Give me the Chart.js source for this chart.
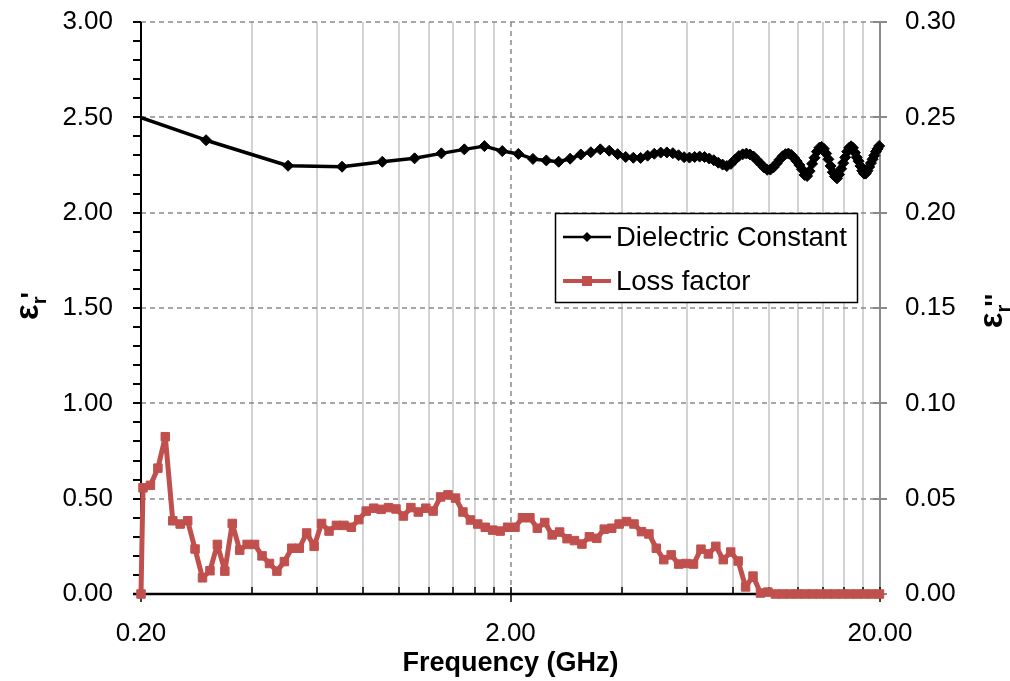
<!DOCTYPE html>
<html>
<head>
<meta charset="utf-8">
<script src="https://cdn.jsdelivr.net/npm/chart.js@4.4.1/dist/chart.umd.min.js"></script>
<style>
  html, body { margin: 0; padding: 0; background: #fff; }
  #wrap { width: 1010px; height: 681px; }
</style>
</head>
<body>
<div id="wrap"><canvas id="chartEps" width="1010" height="681"></canvas></div>
<script>
// Dielectric constant (left axis), frequency in GHz
const freqDielectric = [
  0.1, 0.3, 0.5, 0.7, 0.9, 1.1, 1.3, 1.5, 1.7, 1.9,
  2.1, 2.3, 2.5, 2.7, 2.9, 3.1, 3.3, 3.5, 3.7, 3.9,
  4.1, 4.3, 4.5, 4.7, 4.9, 5.1, 5.3, 5.5, 5.7, 5.9,
  6.1, 6.3, 6.5, 6.7, 6.9, 7.1, 7.3, 7.5, 7.7, 7.9,
  8.1, 8.3, 8.5, 8.7, 8.9, 9.1, 9.3, 9.5, 9.7, 9.9,
  10.1, 10.3, 10.5, 10.7, 10.9, 11.1, 11.3, 11.5, 11.7, 11.9,
  12.1, 12.3, 12.5, 12.7, 12.9, 13.1, 13.3, 13.5, 13.7, 13.9,
  14.1, 14.3, 14.5, 14.7, 14.9, 15.1, 15.3, 15.5, 15.7, 15.9,
  16.1, 16.3, 16.5, 16.7, 16.9, 17.1, 17.3, 17.5, 17.7, 17.9,
  18.1, 18.3, 18.5, 18.7, 18.9, 19.1, 19.3, 19.5, 19.7, 19.9
];
const dielectricConstant = [
  2.70, 2.38, 2.246, 2.241, 2.267, 2.285, 2.311, 2.332, 2.349, 2.323,
  2.308, 2.282, 2.274, 2.267, 2.283, 2.305, 2.317, 2.332, 2.325, 2.307,
  2.292, 2.288, 2.287, 2.299, 2.309, 2.315, 2.316, 2.312, 2.301, 2.291,
  2.289, 2.292, 2.294, 2.292, 2.284, 2.275, 2.262, 2.252, 2.245, 2.256,
  2.278, 2.297, 2.306, 2.310, 2.305, 2.294, 2.275, 2.257, 2.238, 2.225,
  2.226, 2.238, 2.258, 2.278, 2.296, 2.307, 2.310, 2.303, 2.288, 2.270,
  2.250, 2.228, 2.198, 2.192, 2.218, 2.256, 2.288, 2.320, 2.340, 2.345,
  2.335, 2.310, 2.280, 2.245, 2.212, 2.190, 2.180, 2.200, 2.230, 2.260,
  2.290, 2.320, 2.340, 2.348, 2.340, 2.315, 2.290, 2.270, 2.245, 2.220,
  2.205, 2.205, 2.220, 2.240, 2.260, 2.280, 2.300, 2.320, 2.335, 2.350
];

// Loss factor (right axis), frequency in GHz
const freqLoss = [
  0.2,
  0.2025, 0.2121, 0.2222, 0.2327, 0.2438, 0.2553, 0.2675, 0.2801, 0.2934, 0.3074,
  0.3219, 0.3372, 0.3532, 0.3700, 0.3875, 0.4059, 0.4252, 0.4454, 0.4665, 0.4887,
  0.5119, 0.5362, 0.5616, 0.5883, 0.6162, 0.6455, 0.6761, 0.7082, 0.7418, 0.7770,
  0.8139, 0.8525, 0.8930, 0.9354, 0.9798, 1.026, 1.075, 1.126, 1.180, 1.235,
  1.294, 1.355, 1.420, 1.487, 1.558, 1.631, 1.709, 1.790, 1.875, 1.964,
  2.057, 2.154, 2.257, 2.364, 2.476, 2.593, 2.716, 2.845, 2.980, 3.121,
  3.270, 3.425, 3.587, 3.758, 3.936, 4.123, 4.318, 4.523, 4.738, 4.962,
  5.198, 5.444, 5.703, 5.973, 6.257, 6.554, 6.865, 7.190, 7.532, 7.889,
  8.263, 8.656, 9.066, 9.497, 9.947, 10.42, 10.91, 11.43, 11.97, 12.54,
  13.14, 13.76, 14.42, 15.10, 15.82, 16.57, 17.35, 18.18, 19.04, 19.94
];
const lossFactor = [
  0,
  0.0557, 0.057, 0.066, 0.0825, 0.0384, 0.0367, 0.0384, 0.0236, 0.0085, 0.0122,
  0.026, 0.012, 0.037, 0.023, 0.026, 0.026, 0.020, 0.016, 0.012, 0.017,
  0.024, 0.024, 0.032, 0.025, 0.037, 0.033, 0.036, 0.036, 0.035, 0.039,
  0.0435, 0.045, 0.0444, 0.0453, 0.0446, 0.0409, 0.0453, 0.043, 0.045, 0.0435,
  0.0509, 0.052, 0.0503, 0.043, 0.0388, 0.0367, 0.035, 0.0335, 0.033, 0.035,
  0.035, 0.040, 0.040, 0.0345, 0.0375, 0.031, 0.0325, 0.029, 0.028, 0.0262,
  0.030, 0.0292, 0.034, 0.0345, 0.0367, 0.038, 0.0367, 0.0327, 0.0315, 0.024,
  0.018, 0.0205, 0.0157, 0.016, 0.0157, 0.0235, 0.021, 0.025, 0.018, 0.022,
  0.0173, 0.0037, 0.0094, 0.0005, 0.001, 0, 0, 0, 0, 0,
  0, 0, 0, 0, 0, 0, 0, 0, 0, 0
];

// axis ticks
const xTickValues = [0.2, 2, 20];
const xMinorGrid = [0.4, 0.6, 0.8, 1.0, 1.2, 1.4, 1.6, 1.8, 4, 6, 8, 10, 12, 14, 16, 18];

const FONT = '"Liberation Sans", Arial, sans-serif';
const ROJO = '#C0504D';

function linea(ctx, x1, y1, x2, y2) {
    ctx.beginPath();
    ctx.moveTo(x1, y1);
    ctx.lineTo(x2, y2);
    ctx.stroke();
}

// grid, axes and tick marks, like the Excel original
const rejillaPlugin = {
    id: 'rejilla',
    beforeDatasetsDraw(chart) {
        const { ctx, chartArea: a, scales } = chart;
        ctx.save();

        // minor vertical lines (solid)
        ctx.strokeStyle = '#c4c4c4';
        ctx.lineWidth = 1.5;
        xMinorGrid.forEach(v => {
            const px = Math.round(scales.x.getPixelForValue(v));
            linea(ctx, px, a.top, px, a.bottom);
        });

        // major lines (dashed)
        ctx.strokeStyle = '#8a8a8a';
        ctx.lineWidth = 1.5;
        ctx.setLineDash([5, 4]);
        [2, 20].forEach(v => {
            const px = Math.round(scales.x.getPixelForValue(v));
            linea(ctx, px, a.top, px, a.bottom);
        });
        scales.y.ticks.forEach(t => {
            if (t.value <= 0) return;
            const py = Math.round(scales.y.getPixelForValue(t.value));
            linea(ctx, a.left, py, a.right, py);
        });
        ctx.setLineDash([]);

        // right axis (gray)
        ctx.strokeStyle = '#8a8a8a';
        ctx.lineWidth = 2;
        linea(ctx, a.right, a.top, a.right, a.bottom);
        scales.y2.ticks.forEach(t => {
            const py = Math.round(scales.y2.getPixelForValue(t.value));
            linea(ctx, a.right - 7, py, a.right + 7, py);
        });

        // left axis (black) with minor ticks every 0.1
        ctx.strokeStyle = '#000';
        ctx.lineWidth = 2;
        linea(ctx, a.left, a.top, a.left, a.bottom + 1);
        for (let k = 0; k <= 30; k++) {
            const py = Math.round(scales.y.getPixelForValue(k / 10));
            linea(ctx, a.left - 8, py, a.left, py);
        }

        // bottom axis
        ctx.lineWidth = 2.5;
        linea(ctx, a.left - 8, a.bottom, a.right, a.bottom);
        ctx.lineWidth = 1.5;
        xMinorGrid.forEach(v => {
            const px = Math.round(scales.x.getPixelForValue(v));
            linea(ctx, px, a.bottom - 7, px, a.bottom);
        });
        xTickValues.forEach(v => {
            const px = Math.round(scales.x.getPixelForValue(v));
            linea(ctx, px, a.bottom - 7, px, a.bottom + 8);
        });
        ctx.restore();
    },
    afterDraw(chart) {
        const { ctx } = chart;
        ctx.save();
        ctx.fillStyle = '#000';

        // axis titles: epsilon r prime / double prime
        dibujarEps(ctx, 38, 305, "'");
        dibujarEps(ctx, 1002, 310, "''");

        // legend
        const lx = 555, ly = 213, lw = 302, lh = 89;
        ctx.fillStyle = '#fff';
        ctx.fillRect(lx, ly, lw, lh);
        ctx.strokeStyle = '#000';
        ctx.lineWidth = 1.5;
        ctx.strokeRect(lx + 0.5, ly + 0.5, lw, lh);

        const items = chart.data.datasets;
        const filas = [237, 281];
        items.forEach((ds, i) => {
            const y = filas[i];
            ctx.strokeStyle = ds.borderColor;
            ctx.fillStyle = ds.borderColor;
            ctx.lineWidth = i === 0 ? 2.5 : 4;
            linea(ctx, 563, y, 611, y);
            ctx.beginPath();
            if (ds.pointStyle === 'rectRot') {
                ctx.moveTo(587 - 5, y);
                ctx.lineTo(587, y - 5);
                ctx.lineTo(587 + 5, y);
                ctx.lineTo(587, y + 5);
                ctx.closePath();
            } else {
                ctx.rect(587 - 5, y - 5, 10, 10);
            }
            ctx.fill();
            ctx.fillStyle = '#000';
            ctx.font = '27.5px ' + FONT;
            ctx.textBaseline = 'middle';
            ctx.textAlign = 'left';
            ctx.fillText(ds.label, 616, y + 1);
        });
        ctx.restore();
    }
};

function dibujarEps(ctx, x, y, prima) {
    ctx.save();
    ctx.translate(x, y);
    ctx.rotate(-Math.PI / 2);
    ctx.fillStyle = '#000';
    ctx.textBaseline = 'alphabetic';
    ctx.textAlign = 'left';
    ctx.font = 'bold 33px ' + FONT;
    const w1 = ctx.measureText('ε').width;
    ctx.font = 'bold 20px ' + FONT;
    const w2 = ctx.measureText('r').width;
    ctx.font = 'bold 27px ' + FONT;
    const w3 = ctx.measureText(prima).width;
    let px = -(w1 + w2 + w3) / 2;
    ctx.font = 'bold 33px ' + FONT;
    ctx.fillText('ε', px, 0);
    px += w1;
    ctx.font = 'bold 20px ' + FONT;
    ctx.fillText('r', px, 8);
    px += w2 - 2;
    ctx.font = 'bold 27px ' + FONT;
    ctx.fillText(prima, px, 2);
    ctx.restore();
}

// vertical scales: fixed width, no extra top/bottom padding from the labels
function fijarAncho(ancho) {
    return scale => {
        scale.width = ancho;
        scale.paddingTop = 0;
        scale.paddingBottom = 0;
    };
}

const ctx = document.getElementById('chartEps').getContext('2d');
new Chart(ctx, {
    type: 'line',
    data: {
        datasets: [{
            label: 'Dielectric Constant',
            data: freqDielectric.map((f, i) => ({ x: f, y: dielectricConstant[i] })),
            yAxisID: 'y',
            borderColor: '#000',
            backgroundColor: '#000',
            borderWidth: 3.5,
            borderJoinStyle: 'round',
            pointStyle: 'rectRot',
            pointRadius: 5.5,
            pointBorderWidth: 1,
            pointBackgroundColor: '#000',
            pointBorderColor: '#000',
            tension: 0,
            clip: { left: 0, top: false, right: false, bottom: false }
        }, {
            label: 'Loss factor',
            data: freqLoss.map((f, i) => ({ x: f, y: lossFactor[i] })),
            yAxisID: 'y2',
            borderColor: ROJO,
            backgroundColor: ROJO,
            borderWidth: 5,
            borderJoinStyle: 'round',
            pointStyle: 'rect',
            pointRadius: 6,
            pointBorderWidth: 1,
            pointBackgroundColor: ROJO,
            pointBorderColor: ROJO,
            tension: 0,
            clip: false
        }]
    },
    options: {
        responsive: false,
        animation: false,
        devicePixelRatio: 1,
        events: [],
        layout: { padding: { top: 22, left: 0, right: 0, bottom: 0 } },
        plugins: {
            legend: { display: false },
            tooltip: { enabled: false }
        },
        scales: {
            x: {
                type: 'logarithmic',
                position: 'bottom',
                min: 0.2,
                max: 20,
                afterBuildTicks: scale => { scale.ticks = xTickValues.map(v => ({ value: v })); },
                afterFit: scale => { scale.height = 87; },
                grid: { display: false, drawTicks: false },
                border: { display: false },
                ticks: {
                    autoSkip: false,
                    maxRotation: 0,
                    padding: 24,
                    color: '#000',
                    font: { family: FONT, size: 26 },
                    callback: v => Number(v).toFixed(2)
                },
                title: {
                    display: true,
                    text: 'Frequency (GHz)',
                    color: '#000',
                    font: { family: FONT, size: 27, weight: 'bold' },
                    padding: { top: 0, bottom: 1 }
                }
            },
            y: {
                position: 'left',
                min: 0,
                max: 3,
                afterFit: fijarAncho(141),
                grid: { display: false, drawTicks: false },
                border: { display: false },
                ticks: {
                    stepSize: 0.5,
                    padding: 28,
                    color: '#000',
                    font: { family: FONT, size: 26 },
                    callback: v => Number(v).toFixed(2)
                }
            },
            y2: {
                position: 'right',
                min: 0,
                max: 0.3,
                afterFit: fijarAncho(130),
                grid: { display: false, drawTicks: false },
                border: { display: false },
                ticks: {
                    stepSize: 0.05,
                    padding: 25,
                    color: '#000',
                    font: { family: FONT, size: 26 },
                    callback: v => Number(v).toFixed(2)
                }
            }
        }
    },
    plugins: [rejillaPlugin]
});
</script>
</body>
</html>
